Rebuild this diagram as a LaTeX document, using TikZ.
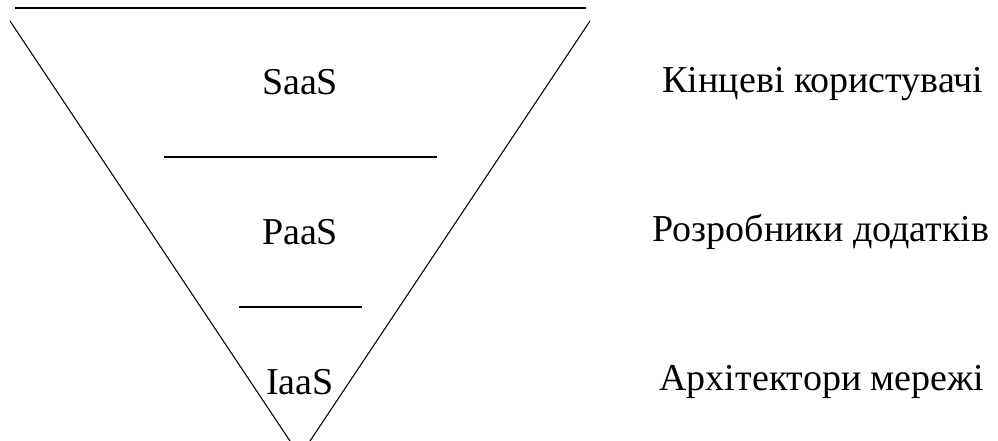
\documentclass[tikz,border=0pt]{standalone}
\usepackage{fontspec}
\setmainfont{Liberation Serif}
\usepackage{tikz}

\begin{document}
\begin{tikzpicture}[x=1bp,y=-1bp,
    lbl/.style={anchor=base,inner sep=0pt,font=\fontsize{38bp}{44bp}\selectfont}]
        \useasboundingbox (0,0) rectangle (998,441);
        \clip (0,0) rectangle (998,441);
        \draw[line width=1.2bp] (15,8) -- (586,8);
        \coordinate (tl) at (10,21);
        \coordinate (tr) at (590,21);
        \coordinate (apex) at (300,456);
        \draw[line width=1bp] (tl) -- (apex) -- (tr);
        \draw[line width=1.2bp] (164,157) -- (437,157);
        \draw[line width=1.2bp] (239,307) -- (362,307);
        \node[lbl] (saas) at (300,95) {SaaS};
        \node[lbl] (paas) at (300,245) {PaaS};
        \node[lbl] (iaas) at (300,395) {IaaS};
        \node[lbl] (users) at (823,93) {Кінцеві користувачі};
        \node[lbl] (devs) at (821,242) {Розробники додатків};
        \node[lbl] (archs) at (822,391) {Архітектори мережі};
\end{tikzpicture}
\end{document}
